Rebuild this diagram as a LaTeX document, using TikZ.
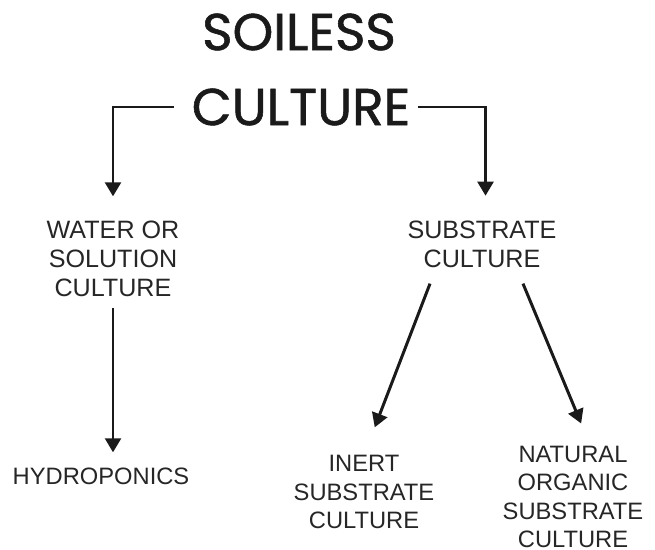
\documentclass[tikz,border=0pt]{standalone}
\usepackage{fontspec}
\setmainfont{Liberation Sans}
\newfontfamily\titlefont{Poppins}[FakeBold=1.1]
\usetikzlibrary{arrows.meta}

\begin{document}
\begin{tikzpicture}[x=0.02cm, y=-0.02cm, >={Triangle[width=9pt,length=8pt]}]
  \definecolor{ink}{HTML}{1A1A1A}
  \definecolor{label}{HTML}{262626}
  \tikzset{
    heading/.style={font=\titlefont\fontsize{29.5}{36}\selectfont, text=ink, inner ysep=0pt, inner xsep=10pt},
    branch/.style={font=\fontsize{14.3}{16.4}\selectfont, align=center, text=label, inner sep=0pt},
    leaf/.style={font=\fontsize{13.5}{16}\selectfont, align=center, text=label, inner sep=0pt},
    link/.style={->, line width=1.7pt, draw=ink},
  }
  \useasboundingbox[fill=white] (0,0) rectangle (655,550);
  % title
  \node[heading] (title1) at (299,32) {SOILESS};
  \node[heading] (title2) at (301,107) {CULTURE};
  % first level
  \node[branch] (water) at (113,259) {WATER OR\\SOLUTION\\CULTURE};
  \node[branch] (substrate) at (482,244) {SUBSTRATE\\CULTURE};
  % second level
  \node[leaf] (hydro) at (101,476) {HYDROPONICS};
  \node[leaf] (inert) at (364,492) {INERT\\SUBSTRATE\\CULTURE};
  \node[leaf] (natural) at (573,497) {NATURAL\\ORGANIC\\SUBSTRATE\\CULTURE};
  % connectors
  \draw[link, shorten >=14pt] (title2.west) -| (water.north);
  \draw[link, shorten <=-6pt, shorten >=14pt] (title2.east) -| ([xshift=2pt]substrate.north);
  \draw[link, shorten <=6pt, shorten >=8.5pt] (water.south) -- (water.south |- hydro.north);
  \draw[link, shorten >=17pt] ([shift={(-52,16)}]substrate.south) -- (inert.north);
  \draw[link, shorten >=14pt] ([shift={(41,16)}]substrate.south) -- ([xshift=10pt]natural.north);
\end{tikzpicture}
\end{document}
